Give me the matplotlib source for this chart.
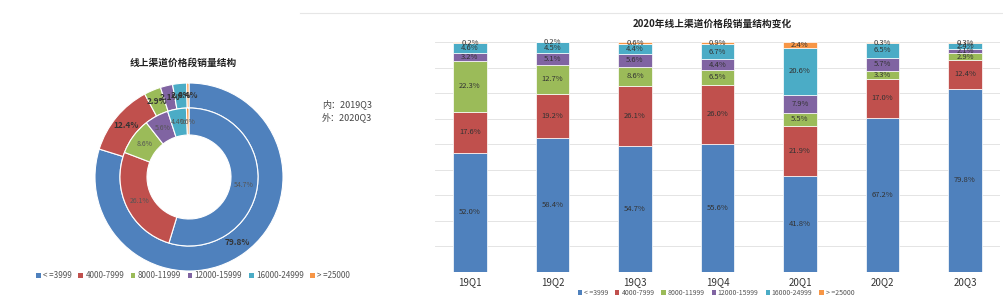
import numpy as np
import matplotlib.pyplot as plt
from matplotlib.patches import Patch
from matplotlib.lines import Line2D

plt.rcParams['font.family'] = ['Noto Sans CJK SC', 'DejaVu Sans']

# price bands and colours
bands = ['<=3999', '4000-7999', '8000-11999', '12000-15999', '16000-24999', '>=25000']
legend_labels = ['< =3999', '4000-7999', '8000-11999', '12000-15999', '16000-24999', '> =25000']
colors = ['#4F81BD', '#C0504D', '#9BBB59', '#8064A2', '#4BACC6', '#F79646']

# pie: inner 2019Q3, outer 2020Q3
pie_inner = [54.7, 26.1, 8.6, 5.6, 4.4, 0.6]
pie_outer = [79.8, 12.4, 2.9, 2.1, 2.4, 0.4]

# stacked bars
quarters = ['19Q1', '19Q2', '19Q3', '19Q4', '20Q1', '20Q2', '20Q3']
s_3999 = [52.0, 58.4, 54.7, 55.6, 41.8, 67.2, 79.8]
s_7999 = [17.6, 19.2, 26.1, 26.0, 21.9, 17.0, 12.4]
s_11999 = [22.3, 12.7, 8.6, 6.5, 5.5, 3.3, 2.9]
s_15999 = [3.2, 5.1, 5.6, 4.4, 7.9, 5.7, 2.1]
s_24999 = [4.6, 4.5, 4.4, 6.7, 20.6, 6.5, 2.4]
s_25000 = [0.2, 0.2, 0.6, 0.9, 2.4, 0.3, 0.3]
series = [s_3999, s_7999, s_11999, s_15999, s_24999, s_25000]

W, H = 1004, 307
fig = plt.figure(figsize=(W / 100, H / 100), dpi=100)
fig.patch.set_facecolor('white')

def fx(px):
    return px / W

def fy(py):
    return 1 - py / H

# top separator line
fig.add_artist(Line2D([fx(300), 1], [fy(13), fy(13)], color='#e6e6e6', lw=0.8))

# ---------- pie ----------
cx, cy, R = 189, 177, 94
axp = fig.add_axes([fx(cx - R), fy(cy + R), 2 * R / W, 2 * R / H])
r_in = 69 / R
w_in = r_in - 42 / R
w_out = 1 - r_in

axp.pie(pie_outer, radius=1, colors=colors, startangle=90, counterclock=False,
        wedgeprops=dict(width=w_out, edgecolor='white', linewidth=0.8))
axp.pie(pie_inner, radius=r_in, colors=colors, startangle=90, counterclock=False,
        wedgeprops=dict(width=w_in, edgecolor='white', linewidth=0.8))
axp.set_aspect('equal')
axp.set_xlim(-1, 1)
axp.set_ylim(-1, 1)

def pie_labels(vals, r, fs, col, weight):
    start = 90
    for v in vals:
        mid = start - v * 3.6 / 2
        start -= v * 3.6
        a = np.deg2rad(mid)
        axp.text(r * np.cos(a), r * np.sin(a), f'{v:.1f}%', ha='center', va='center',
                 fontsize=fs, color=col, fontweight=weight)

pie_labels(pie_outer, 1 - w_out / 2, 6, '#333333', 'bold')
pie_labels(pie_inner, r_in - w_in / 2, 5, '#555555', 'normal')

fig.text(fx(183), fy(63), '线上渠道价格段销量结构', fontsize=7, fontweight='bold',
         ha='center', va='center', color='#222222')
fig.text(fx(322), fy(104), '内：2019Q3', fontsize=6.5, ha='left', va='center', color='#444444')
fig.text(fx(322), fy(117), '外：2020Q3', fontsize=6.5, ha='left', va='center', color='#444444')

handles = [Patch(facecolor=c, edgecolor='none') for c in colors]
fig.legend(handles, legend_labels, loc='center', bbox_to_anchor=(fx(193), fy(276)),
           ncol=6, frameon=False, fontsize=5.8, handlelength=0.6, handleheight=0.6,
           handletextpad=0.3, columnspacing=0.8, labelcolor='#555555')

# ---------- stacked bars ----------
axb = fig.add_axes([fx(435), fy(272), (1000 - 435) / W, (272 - 42) / H])
x = np.arange(len(quarters))
bottom = np.zeros(len(quarters))
for vals, c in zip(series, colors):
    vals = np.array(vals)
    axb.bar(x, vals, width=0.41, bottom=bottom, color=c, edgecolor='white', linewidth=0.5, zorder=3)
    for xi, b, v in zip(x, bottom, vals):
        axb.text(xi, b + v / 2, f'{v:.1f}%', ha='center', va='center', fontsize=5.5,
                 color='#333333', zorder=4)
    bottom += vals

axb.set_xlim(-35 / 82.6, 6 + 35 / 82.6)
axb.set_ylim(0, bottom.max())
axb.set_yticks(np.linspace(0, 100, 10))
axb.yaxis.grid(True, color='#e4e4e4', lw=0.7, zorder=0)
axb.tick_params(axis='y', left=False, labelleft=False)
axb.set_xticks(x)
axb.set_xticklabels(quarters, fontsize=7, color='#333333')
axb.tick_params(axis='x', length=0, pad=4)
for s in axb.spines.values():
    s.set_visible(False)
axb.set_facecolor('none')

fig.text(fx(712), fy(24), '2020年线上渠道价格段销量结构变化', fontsize=7, fontweight='bold',
         ha='center', va='center', color='#222222')
fig.legend(handles, legend_labels, loc='center', bbox_to_anchor=(fx(716), fy(293)),
           ncol=6, frameon=False, fontsize=5, handlelength=0.6, handleheight=0.6,
           handletextpad=0.3, columnspacing=1.0, labelcolor='#555555')

fig.savefig('out.png', dpi=100)
